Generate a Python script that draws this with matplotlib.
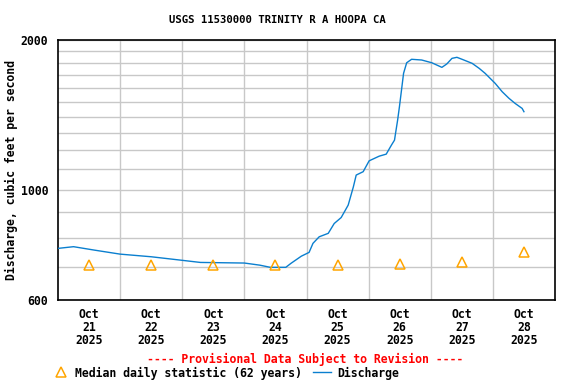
import matplotlib
matplotlib.use("Agg")
import matplotlib.pyplot as plt
from matplotlib.lines import Line2D

# discharge, hours since Oct 21 2025 00:00 -> cfs
hours = [0, 6, 14, 24, 36, 47, 55, 72, 78, 82, 88, 90, 94, 97, 98.5, 100.9,
         104.4, 106.7, 109.4, 112.1, 114.1, 115.2, 117.9, 120.2, 124.1, 126.8,
         128.8, 130.0, 130.4, 131.2, 131.9, 132.7, 133.5, 134.7, 136.6, 140.5,
         144.4, 148.3, 150.2, 152.2, 154.1, 156.1, 160.0, 162.7, 165.0, 168.9,
         171.6, 174.2, 176.6, 179.3, 180.0]
discharge = [762, 768, 756, 742, 733, 722, 714, 712, 705, 698, 698, 711, 735,
             748, 780, 804, 817, 855, 879, 931, 1013, 1070, 1087, 1143, 1168,
             1179, 1229, 1258, 1298, 1380, 1468, 1586, 1714, 1800, 1829, 1823,
             1800, 1762, 1790, 1837, 1846, 1829, 1795, 1754, 1714, 1636, 1574,
             1527, 1491, 1457, 1435]

# median daily statistic, one per day at noon
median_hours = [12, 36, 60, 84, 108, 132, 156, 180]
median_vals = [705, 705, 707, 705, 707, 710, 714, 751]

day_labels = ["Oct\n21\n2025", "Oct\n22\n2025", "Oct\n23\n2025", "Oct\n24\n2025",
              "Oct\n25\n2025", "Oct\n26\n2025", "Oct\n27\n2025", "Oct\n28\n2025"]
y_grid = [600, 700, 800, 900, 1000, 1100, 1200, 1300, 1400, 1500, 1600,
          1700, 1800, 1900, 2000]
y_labeled = [600, 1000, 2000]

font = "DejaVu Sans Mono"
fs = 8.3
blue = "#0a7fcf"
orange = "#ffa500"

fig = plt.figure(figsize=(5.76, 3.84), dpi=100)
ax = fig.add_axes([58 / 576, 1 - 300 / 384, 497 / 576, 260 / 384])

ax.plot(hours, discharge, color=blue, lw=1.0, zorder=3)
ax.plot(median_hours, median_vals, linestyle="none", marker="^", ms=7.5,
        mfc="none", mec=orange, mew=1.1, zorder=4)

ax.set_yscale("log")
ax.set_ylim(600, 2000)
ax.set_xlim(0, 192)
ax.yaxis.set_minor_locator(matplotlib.ticker.NullLocator())
ax.set_yticks(y_grid)
ax.set_yticklabels([str(v) if v in y_labeled else "" for v in y_grid],
                   fontfamily=font, fontweight="bold", fontsize=fs)
ax.set_xticks([24 * i for i in range(1, 8)], minor=False)
ax.set_xticklabels([])
ax.set_xticks(median_hours, minor=True)
ax.set_xticklabels(day_labels, minor=True, fontfamily=font,
                   fontweight="bold", fontsize=fs, linespacing=1.0)
ax.tick_params(axis="y", which="both", length=0, pad=7)
ax.tick_params(axis="x", which="both", length=0, pad=6)
ax.grid(True, which="major", color="#c8c8c8", lw=1.0, zorder=0)
ax.set_axisbelow(True)
for s in ax.spines.values():
    s.set_linewidth(1.2)
    s.set_color("black")

ax.set_ylabel("Discharge, cubic feet per second", fontfamily=font,
              fontweight="bold", fontsize=fs)
ax.yaxis.set_label_coords(-0.08, 0.5)
fig.text(277 / 576, 1 - 20 / 384,
         "USGS 11530000 TRINITY R A HOOPA CA", ha="center", va="center",
         fontfamily=font, fontweight="bold", fontsize=7.7)
fig.text(305 / 576, 1 - 359 / 384,
         "---- Provisional Data Subject to Revision ----", ha="center",
         va="center", color="red", fontfamily=font, fontweight="bold",
         fontsize=fs)

# legend row
fig.add_artist(Line2D([61 / 576], [1 - 372 / 384], marker="^", ms=7.5,
                      mfc="none", mec=orange, mew=1.1, linestyle="none",
                      transform=fig.transFigure))
fig.text(75 / 576, 1 - 373 / 384, "Median daily statistic (62 years)",
         ha="left", va="center", fontfamily=font, fontweight="bold",
         fontsize=fs)
fig.add_artist(Line2D([313 / 576, 331 / 576], [1 - 372 / 384, 1 - 372 / 384],
                      color=blue, lw=1.0, transform=fig.transFigure))
fig.text(337 / 576, 1 - 373 / 384, "Discharge", ha="left", va="center",
         fontfamily=font, fontweight="bold", fontsize=fs)

fig.savefig("out.png", dpi=100)
